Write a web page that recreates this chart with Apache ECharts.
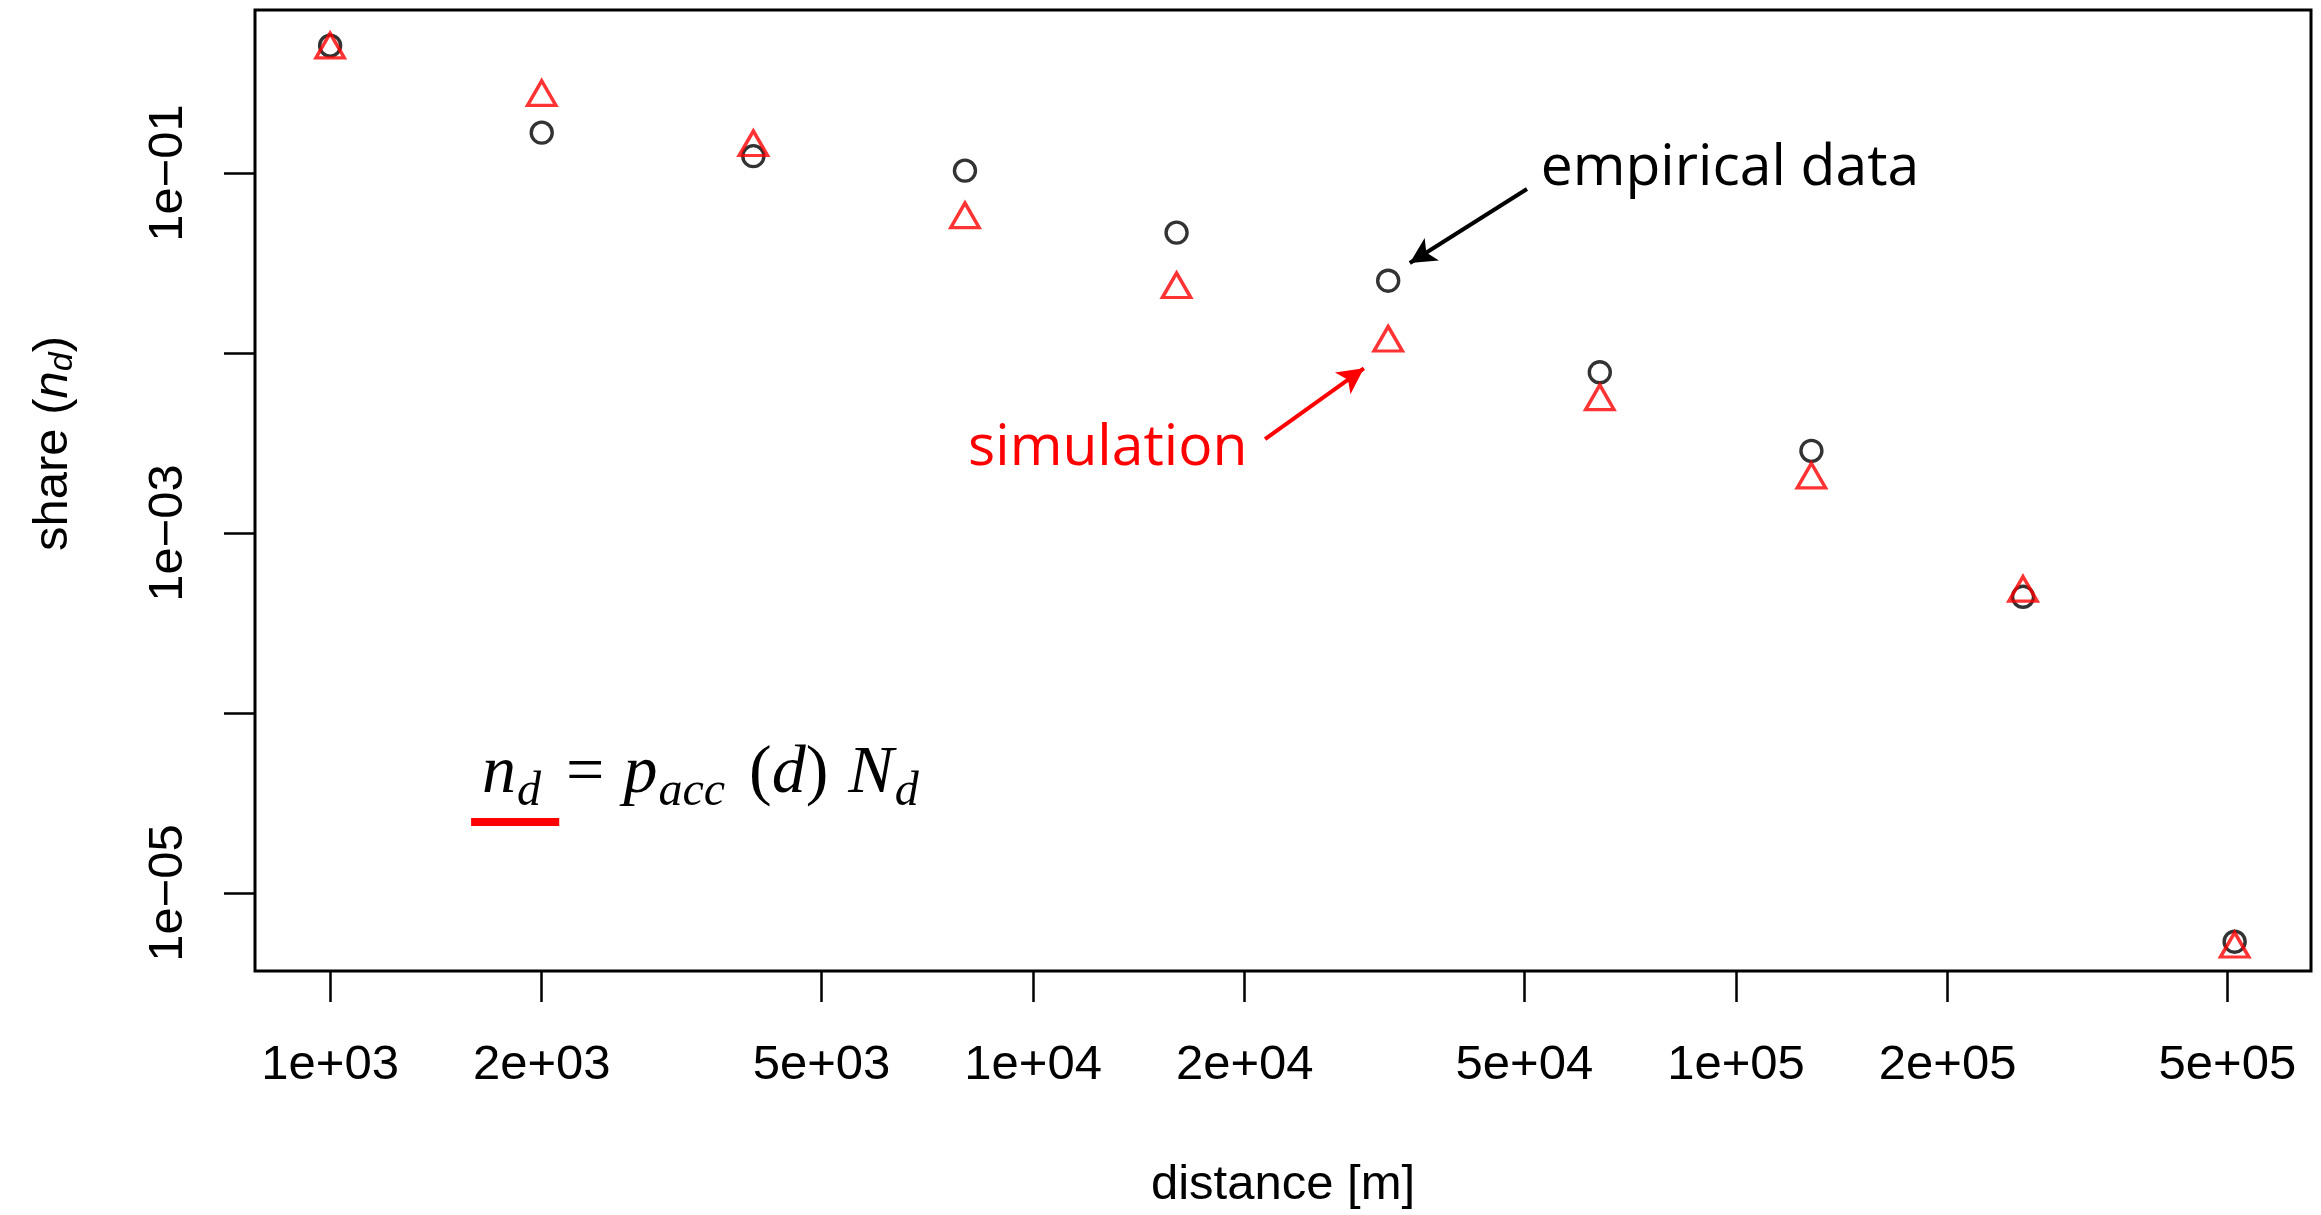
<!DOCTYPE html>
<html>
<head>
<meta charset="utf-8">
<script src="https://cdn.jsdelivr.net/npm/echarts@6/dist/echarts.min.js"></script>
<style>
  html, body { margin: 0; padding: 0; background: #fff; }
  #chart { width: 2321px; height: 1215px; }
</style>
</head>
<body>
<div id="chart"></div>
<script>
// distance classes [m] and shares n_d
const distances = [1000, 2000, 4000, 8000, 16000, 32000, 64000, 128000, 256000, 512000]
const empirical = [0.51, 0.1675, 0.124, 0.103, 0.0466, 0.0252, 0.00781, 0.00286, 0.000442, 5.36e-6]
const simulation = [0.485, 0.264, 0.139, 0.0553, 0.0226, 0.0114, 0.00539, 0.00198, 0.000465, 4.9e-6]

// axis ticks / labels
const xTickValues = [1e3, 2e3, 5e3, 1e4, 2e4, 5e4, 1e5, 2e5, 5e5]
const xTickLabels = ['1e+03', '2e+03', '5e+03', '1e+04', '2e+04', '5e+04', '1e+05', '2e+05', '5e+05']
const yTickValues = [1e-5, 1e-4, 1e-3, 1e-2, 1e-1]
const yLabelValues = [1e-5, 1e-3, 1e-1]
const yTickLabels = ['1e\u221205', '1e\u221203', '1e\u221201']

// annotation anchors, in data coordinates
const empiricalText = [52740, 0.1053]
const empiricalArrow = [[50420, 0.0815], [34350, 0.0316]]
const simulationText = [12770, 0.002928]
const simulationArrow = [[21380, 0.003327], [29550, 0.00822]]
const formulaAt = [1645, 4.58e-5]
const underline = [[1587, 2.48e-5], [2118, 2.48e-5]]

const SANS = 'Liberation Sans, Arial, sans-serif'
const SERIF = 'Liberation Serif, Times New Roman, serif'
const NOTE = 'Open Sans, Noto Sans, sans-serif'

function lookup(values, labels) {
  return (v) => {
    const i = values.findIndex((t) => Math.abs(t - v) <= t * 1e-6)
    return i < 0 ? '' : labels[i]
  }
}

const pairs = (ys) => distances.map((d, i) => [d, ys[i]])

const chart = echarts.init(document.getElementById('chart'))

const mathMain = { fontFamily: SERIF, fontSize: 68, lineHeight: 84, color: '#000' }
const mathSub = { fontFamily: SERIF, fontStyle: 'italic', fontSize: 48, lineHeight: 48, color: '#000' }

chart.setOption({
  animation: false,
  backgroundColor: '#fff',
  grid: {
    left: 255, right: 10, top: 10, bottom: 244,
    show: true, borderColor: '#000', borderWidth: 3,
    containLabel: false, outerBoundsMode: 'none',
  },
  xAxis: {
    type: 'log',
    min: 781.9,
    max: 657500,
    name: 'distance [m]',
    nameLocation: 'middle',
    nameGap: 190,
    nameMoveOverlap: false,
    nameTextStyle: { fontFamily: SANS, fontSize: 49, color: '#000' },
    axisLine: { show: false },
    splitLine: { show: false },
    axisTick: {
      show: true, inside: false, length: 31,
      customValues: xTickValues,
      lineStyle: { color: '#000', width: 2.5 },
    },
    axisLabel: {
      customValues: xTickValues,
      formatter: lookup(xTickValues, xTickLabels),
      margin: 70,
      fontFamily: SANS, fontSize: 49, color: '#000',
    },
  },
  yAxis: {
    type: 'log',
    min: 3.686e-6,
    max: 0.8044,
    name: '{a|share (}{i|n}{s|d}{a|)}',
    nameLocation: 'middle',
    nameGap: 172,
    nameMoveOverlap: false,
    nameTextStyle: {
      padding: [0, 0, 0, 94],
      rich: {
        a: { fontFamily: SANS, fontSize: 49, lineHeight: 60, color: '#000' },
        i: { fontFamily: SANS, fontSize: 49, lineHeight: 60, fontStyle: 'italic', color: '#000' },
        s: { fontFamily: SANS, fontSize: 34, lineHeight: 34, fontStyle: 'italic', color: '#000', padding: [20, 0, 0, 0] },
      },
    },
    axisLine: { show: false },
    splitLine: { show: false },
    axisTick: {
      show: true, inside: false, length: 31,
      customValues: yTickValues,
      lineStyle: { color: '#000', width: 2.5 },
    },
    axisLabel: {
      customValues: yLabelValues,
      formatter: lookup(yLabelValues, yTickLabels),
      rotate: 90,
      margin: 62,
      fontFamily: SANS, fontSize: 49, color: '#000',
    },
  },
  series: [
    {
      name: 'empirical data',
      type: 'scatter',
      data: pairs(empirical),
      symbol: 'circle',
      symbolSize: 21,
      itemStyle: { color: 'rgba(0,0,0,0)', borderColor: '#000', borderWidth: 3.4 },
      markLine: {
        silent: true,
        symbol: ['none', 'arrow'],
        symbolSize: [20, 26],
        label: { show: false },
        lineStyle: { color: '#000', width: 4, type: 'solid' },
        data: [[{ coord: empiricalArrow[0] }, { coord: empiricalArrow[1] }]],
      },
      markPoint: {
        silent: true,
        symbol: 'circle',
        symbolSize: 0,
        data: [
          {
            coord: empiricalText,
            label: {
              show: true, position: 'right', distance: 0,
              formatter: 'empirical data',
              fontFamily: NOTE, fontSize: 57, color: '#000',
            },
          },
          {
            coord: formulaAt,
            label: {
              show: true, position: 'right', distance: 0,
              formatter: '{i|n}{s|d}{eq|=}{i|p}{s|acc}{lp|(}{i|d}{o|)}{bn|N}{s|d}',
              rich: {
                i: { ...mathMain, fontStyle: 'italic' },
                bn: { ...mathMain, fontStyle: 'italic', padding: [0, 0, 0, 20] },
                o: mathMain,
                eq: { ...mathMain, padding: [0, 19, 0, 25] },
                lp: { ...mathMain, padding: [0, 0, 0, 24] },
                s: { ...mathSub, padding: [36, 0, 0, 1] },
              },
            },
          },
        ],
      },
    },
    {
      name: 'simulation',
      type: 'scatter',
      data: pairs(simulation),
      symbol: 'triangle',
      symbolSize: [28.3, 24.5],
      symbolOffset: [0, -4],
      itemStyle: { color: 'rgba(0,0,0,0)', borderColor: '#ff0000', borderWidth: 3.4 },
      markLine: {
        silent: true,
        symbol: ['none', 'none'],
        label: { show: false },
        data: [
          [
            { coord: simulationArrow[0], symbol: 'none', lineStyle: { color: '#ff0000', width: 4, type: 'solid' } },
            { coord: simulationArrow[1], symbol: 'arrow', symbolSize: [20, 26] },
          ],
          [
            { coord: underline[0], lineStyle: { color: '#ff0000', width: 8, type: 'solid' } },
            { coord: underline[1] },
          ],
        ],
      },
      markPoint: {
        silent: true,
        symbol: 'circle',
        symbolSize: 0,
        data: [
          {
            coord: simulationText,
            label: {
              show: true, position: 'inside',
              formatter: 'simulation',
              fontFamily: NOTE, fontSize: 57, color: '#ff0000',
            },
          },
        ],
      },
    },
  ],
})
</script>
</body>
</html>
